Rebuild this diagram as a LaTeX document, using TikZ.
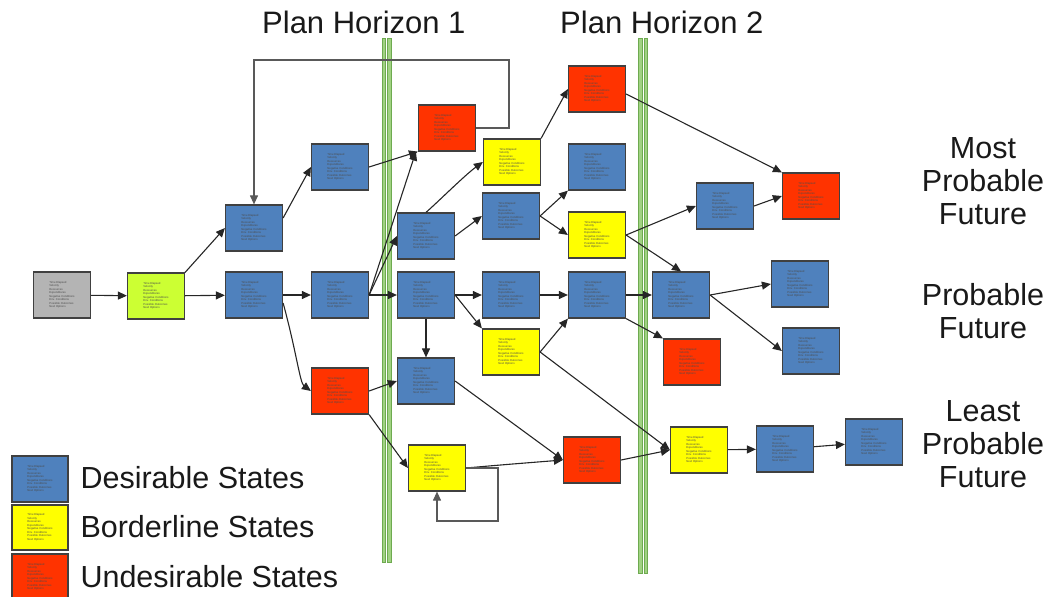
\documentclass[tikz,border=0pt]{standalone}
\usepackage{fontspec}
\setmainfont{Liberation Sans}
\usetikzlibrary{arrows.meta}
\definecolor{cblue}{RGB}{79,129,189}
\definecolor{cyel}{RGB}{255,255,0}
\definecolor{cred}{RGB}{255,51,0}
\definecolor{cgray}{RGB}{180,180,180}
\definecolor{clime}{RGB}{204,255,51}
\definecolor{bargreen}{RGB}{160,210,130}
\definecolor{bargreenD}{RGB}{110,170,80}
\newcommand\statetxt{Time Elapsed\\Velocity\\Resources\\Expenditures\\Negative Conditions\\Env. Conditions\\Possible Outcomes\\Next Options}
\tikzset{
  st/.style={draw=black!75, line width=1.2pt, minimum width=57pt, minimum height=46pt, inner sep=0pt,
    align=left, font=\fontsize{2.8}{3.5}\selectfont, text=black!70},
  des/.style={st, fill=cblue},
  bor/.style={st, fill=cyel},
  und/.style={st, fill=cred},
  arr/.style={-{Triangle[length=9pt,width=8pt]}, line width=1.1pt, black!85},
  garr/.style={-{Triangle[length=9pt,width=8pt]}, line width=1.1pt, black!65},
  bar/.style={fill=bargreen, draw=bargreenD, line width=0.5pt},
  big/.style={font=\fontsize{30.5}{33}\selectfont, text=black!90},
  head/.style={font=\fontsize{31}{33}\selectfont, text=black!90}
}
\begin{document}
\begin{tikzpicture}[x=1pt,y=-1pt]
\useasboundingbox (0,0) rectangle (1050,597);
% horizon bars
\draw[bar] (382,38) rectangle (385.5,562);
\draw[bar] (387.5,38) rectangle (391,562);
\draw[bar] (638.5,38) rectangle (642,573);
\draw[bar] (644,38) rectangle (647.5,573);
% headers
\node[head, anchor=west, inner sep=0pt] (ph1) at (262,22) {Plan Horizon 1};
\node[head, anchor=west, inner sep=0pt] (ph2) at (560,22) {Plan Horizon 2};
% right labels
\node[big, align=center] (mpf) at (983,181) {Most\\Probable\\Future};
\node[big, align=center] (pf) at (983,311) {Probable\\Future};
\node[big, align=center] (lpf) at (983,444) {Least\\Probable\\Future};
% states
\node[st, fill=cgray] (g) at (62,295) {\statetxt};
\node[st, fill=clime] (l) at (156,296) {\statetxt};
\node[des] (b1) at (254,228) {\statetxt};
\node[des] (b2) at (254,295) {\statetxt};
\node[des] (c1) at (340,167) {\statetxt};
\node[des] (c2) at (340,295) {\statetxt};
\node[und] (c3) at (340,391) {\statetxt};
\node[und] (d1) at (447,128) {\statetxt};
\node[des] (d2) at (426,236) {\statetxt};
\node[des] (d3) at (426,295) {\statetxt};
\node[des] (d4) at (426,381) {\statetxt};
\node[bor] (d5) at (437,468) {\statetxt};
\node[bor] (e1) at (512,162) {\statetxt};
\node[des] (e2) at (511,216) {\statetxt};
\node[des] (e3) at (511,295) {\statetxt};
\node[bor] (e4) at (511,352) {\statetxt};
\node[und] (f1) at (597,89) {\statetxt};
\node[des] (f2) at (597,167) {\statetxt};
\node[bor] (f3) at (597,235) {\statetxt};
\node[des] (f4) at (597,295) {\statetxt};
\node[und] (f5) at (592,460) {\statetxt};
\node[des] (h1) at (725,206) {\statetxt};
\node[des] (h2) at (681,295) {\statetxt};
\node[und] (h3) at (692,362) {\statetxt};
\node[bor] (h4) at (699,450) {\statetxt};
\node[und] (i1) at (811,196) {\statetxt};
\node[des] (i2) at (800,284) {\statetxt};
\node[des] (i3) at (811,351) {\statetxt};
\node[des] (i4) at (785,449) {\statetxt};
\node[des] (j1) at (874,442) {\statetxt};
% legend
\node[des, minimum height=46pt, minimum width=56pt] (lg1) at (40,479) {\statetxt};
\node[bor, minimum height=45pt, minimum width=56pt] (lg2) at (40,527.5) {\statetxt};
\node[und, minimum height=46pt, minimum width=56pt] (lg3) at (40,577) {\statetxt};
\node[big, anchor=west] (lt1) at (77,478) {Desirable States};
\node[big, anchor=west] (lt2) at (77,527) {Borderline States};
\node[big, anchor=west] (lt3) at (77,577) {Undesirable States};
% connectors
\draw[arr] (g) -- (l);
\draw[arr] (l) -- (b2);
\draw[arr] (l.north east) -- (b1.west);
\draw[arr] (b2.east) ++(0,8) .. controls (296,350) and (300,383) .. (c3.west);
\draw[arr] (b1.east) ++(0,-10) -- (c1.west);
\draw[arr] (b2) -- (c2);
\draw[arr] (c1.east) -- (d1.south west);
\draw[arr] (c2.east) -- ([xshift=-2pt]d1.south west);
\draw[arr] (c2.east) -- (d2.west);
\draw[arr] (c2) -- (d3);
\draw[garr] (d1.east) -- (509,128) -- (509,60) -- (254,60) -- (b1.north);
\draw[arr] (d3) -- (e3);
\draw[arr] (e3) -- (f4);
\draw[arr] (f4) -- (h2);
\draw[arr] (d3.south) -- (d4.north);
\draw[arr] (d2.east) -- (e2.west);
\draw[arr] (d2.north) .. controls (440,200) and (465,175) .. (e1.west);
\draw[arr] (e1.north east) -- (f1.west);
\draw[arr] (e2.east) -- (f2.south west);
\draw[arr] (e2.east) -- (f3.west);
\draw[arr] (f1.east) ++(0,5) -- (i1.north west);
\draw[arr] (f3.east) -- (h1.west);
\draw[arr] (f3.east) -- (h2.north);
\draw[arr] (h1.east) -- (i1.west);
\draw[arr] (h2.east) -- (i2.west);
\draw[arr] (h2.east) -- (i3.west);
\draw[arr] (d3.east) -- (e4.north west);
\draw[arr] (e4.east) -- (f4.south west);
\draw[arr] (e4.east) -- (h4.west);
\draw[arr] (f4.south east) -- (h3.north west);
\draw[arr] (c3.east) -- (d4.west);
\draw[arr] (c3.south east) -- (d5.west);
\draw[arr] (d4.east) -- (f5.west);
\draw[arr] (d5.east) .. controls (500,465) .. (f5.west);
\draw[garr] (d5.east) -- (498,468) -- (498,521) -- (437,521) -- (d5.south);
\draw[arr] (f5.east) -- (h4.west);
\draw[arr] (h4) -- (i4);
\draw[arr] (i4) -- (j1);
\end{tikzpicture}
\end{document}
